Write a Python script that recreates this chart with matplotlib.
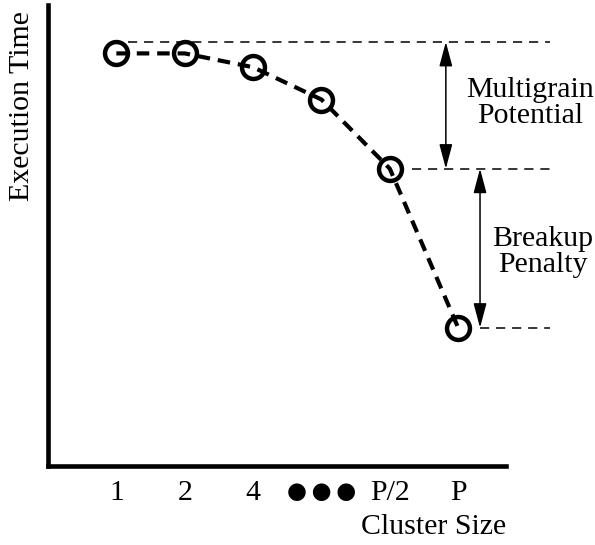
import matplotlib
matplotlib.use("Agg")
import matplotlib.pyplot as plt

# data
positions = [0, 1, 2, 3, 4, 5]
tick_labels = ["1", "2", "4", "\u25CF\u2009\u25CF\u2009\u25CF", "P/2", "P"]
exec_time = [89.5, 89.5, 86.5, 79.5, 64.5, 30.0]
ideal_level = 92.0
half_level = exec_time[4]
full_level = exec_time[5]

SERIF = ["Liberation Serif", "DejaVu Serif"]
FS = 21.5

fig = plt.figure(figsize=(5.95, 5.45), dpi=100)
ax = fig.add_axes([48 / 595, 1 - 466 / 545, (506 - 48) / 595, (466 - 5) / 545])
ax.set_xlim(-1.0, 5.70)
ax.set_ylim(0, 100)

for s in ["top", "right"]:
    ax.spines[s].set_visible(False)
for s in ["left", "bottom"]:
    ax.spines[s].set_linewidth(3.3)
    ax.spines[s].set_capstyle("projecting")

ax.set_yticks([])
ax.set_xticks(positions)
ax.set_xticklabels(tick_labels, fontsize=FS, family=SERIF)
ax.get_xticklabels()[3].set_family(["DejaVu Sans"])
ax.get_xticklabels()[3].set_fontsize(16.5)
ax.tick_params(axis="x", length=0, pad=10)

# main curve
ax.plot(positions, exec_time, color="black", lw=3.0, linestyle=(0, (3.0, 1.9)),
        marker="o", markersize=16.5, markerfacecolor="none", markeredgewidth=3.2,
        markeredgecolor="black", clip_on=False, zorder=3)

# reference dashed lines
ref_style = dict(color="black", lw=1.1, linestyle=(0, (6, 4.5)), clip_on=False)
ax.plot([0.175, 6.35], [ideal_level, ideal_level], **ref_style)
ax.plot([4.33, 6.35], [half_level, half_level], **ref_style)
ax.plot([5.32, 6.35], [full_level, full_level], **ref_style)

# arrows
arrow = dict(arrowstyle="<|-|>,head_length=0.75,head_width=0.2", color="black",
             lw=1.1, shrinkA=0, shrinkB=0, mutation_scale=20)
ax.annotate("", xy=(4.82, ideal_level), xytext=(4.82, half_level),
            arrowprops=arrow, annotation_clip=False)
ax.annotate("", xy=(5.32, half_level), xytext=(5.32, full_level),
            arrowprops=arrow, annotation_clip=False)

ax.text(6.05, 78.7, "Multigrain\nPotential", ha="center", va="center",
        fontsize=FS, family=SERIF, linespacing=1.0, clip_on=False)
ax.text(6.24, 46.4, "Breakup\nPenalty", ha="center", va="center",
        fontsize=FS, family=SERIF, linespacing=1.0, clip_on=False)

ax.set_xlabel("Cluster Size", fontsize=FS, family=SERIF, loc="right")
ax.xaxis.set_label_coords(1.0, -0.105)
fig.text(22 / 595, 1 - 106 / 545, "Execution Time", rotation=90, ha="center",
         va="center", fontsize=FS, family=SERIF)

fig.savefig("out.png", dpi=100)
